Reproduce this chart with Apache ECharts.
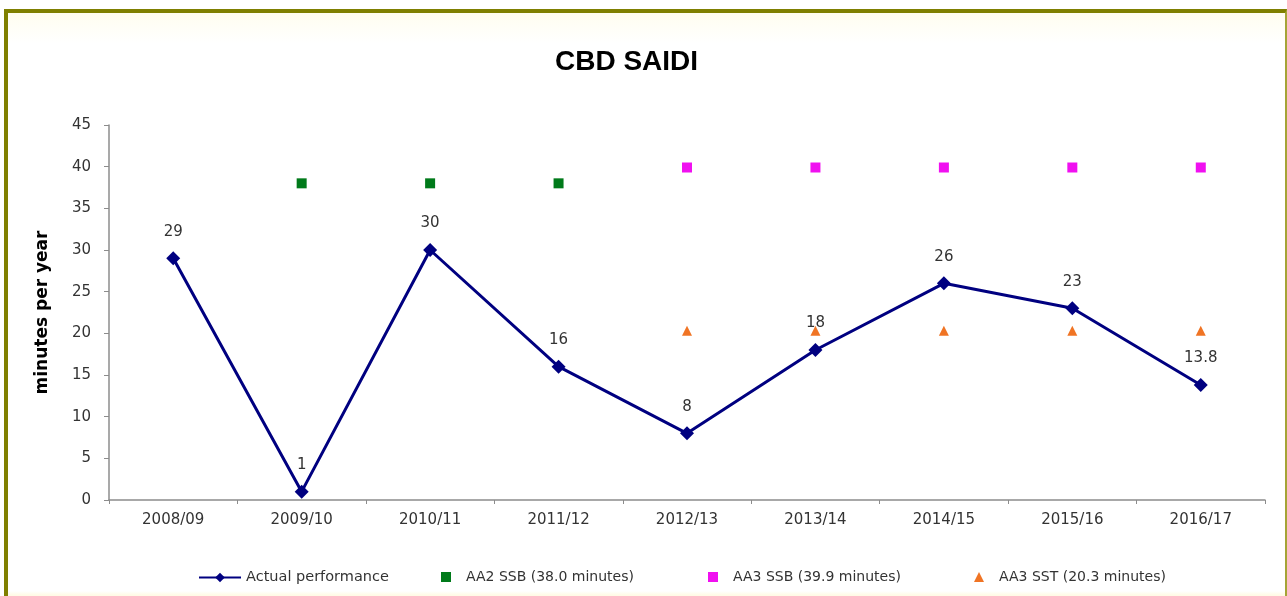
<!DOCTYPE html>
<html>
<head>
<meta charset="utf-8">
<script src="https://cdn.jsdelivr.net/npm/echarts@6/dist/echarts.min.js"></script>
<style>
  html, body { margin: 0; padding: 0; width: 1287px; height: 596px; overflow: hidden; background: #ffffff; }
  #frame {
    position: absolute; left: 4px; top: 9px; width: 1277px; height: 600px;
    border-top: 4px solid #7f7f00; border-left: 4px solid #7f7f00; border-right: 2px solid #a4a436;
    background: linear-gradient(to bottom, #fffdf0 0px, #ffffff 30px, #ffffff 578px, #fffbe6 582px);
  }
  #chart { position: absolute; left: 0; top: 0; width: 1287px; height: 596px; }
</style>
</head>
<body>
<div id="frame"></div>
<div id="chart"></div>
<script>
// Financial years on the category axis
const years = ['2008/09', '2009/10', '2010/11', '2011/12', '2012/13', '2013/14', '2014/15', '2015/16', '2016/17'];
// Actual CBD SAIDI, minutes per year
const actual = [29, 1, 30, 16, 8, 18, 26, 23, 13.8];
// AA2 service standard benchmark (38.0 minutes), 2009/10 to 2011/12
const aa2Ssb = ['-', 38, 38, 38, '-', '-', '-', '-', '-'];
// AA3 service standard benchmark (39.9 minutes), 2012/13 onwards
const aa3Ssb = ['-', '-', '-', '-', 39.9, 39.9, 39.9, 39.9, 39.9];
// AA3 service standard target (20.3 minutes), 2012/13 onwards
const aa3Sst = ['-', '-', '-', '-', 20.3, 20.3, 20.3, 20.3, 20.3];
// Value axis ticks
const yMin = 0, yMax = 45, yStep = 5;

const FONT = '"DejaVu Sans", sans-serif';
const names = ['Actual performance', 'AA2 SSB (38.0 minutes)', 'AA3 SSB (39.9 minutes)', 'AA3 SST (20.3 minutes)'];

const chart = echarts.init(document.getElementById('chart'), null, { renderer: 'canvas' });

const legendBase = {
  top: 570, padding: 0, itemHeight: 10, itemWidth: 10,
  textStyle: { fontFamily: FONT, fontSize: 14, color: '#333333' }
};
const padText = Object.assign({}, legendBase.textStyle, { padding: [0, 0, 0, 10] });

chart.setOption({
  backgroundColor: 'transparent',
  animation: false,
  title: {
    text: 'CBD SAIDI',
    left: 550, top: 43,
    textStyle: { fontFamily: '"Liberation Sans", Arial, sans-serif', fontWeight: 'bold', fontSize: 28, color: '#000000' }
  },
  grid: { left: 109, right: 22, top: 125, bottom: 96, containLabel: false },
  legend: [
    Object.assign({}, legendBase, { data: [names[0]], left: 198, itemWidth: 42, itemHeight: 12, textStyle: Object.assign({}, legendBase.textStyle, { fontSize: 14.5 }) }),
    Object.assign({}, legendBase, { data: [names[1]], left: 441, textStyle: padText }),
    Object.assign({}, legendBase, { data: [names[2]], left: 708, textStyle: padText }),
    Object.assign({}, legendBase, { data: [names[3]], left: 974, textStyle: padText })
  ],
  xAxis: {
    type: 'category',
    data: years,
    boundaryGap: true,
    axisLine: { lineStyle: { color: '#8c8c8c', width: 1.5 } },
    axisTick: { show: true, length: 4, lineStyle: { color: '#8c8c8c' } },
    axisLabel: { fontFamily: FONT, fontSize: 15, color: '#333333', margin: 13 }
  },
  yAxis: {
    type: 'value',
    min: yMin, max: yMax, interval: yStep,
    name: 'minutes per year',
    nameLocation: 'middle',
    nameRotate: 90,
    nameGap: 58,
    nameTextStyle: { fontFamily: FONT, fontWeight: 'bold', fontSize: 17, color: '#000000' },
    axisLine: { show: true, lineStyle: { color: '#8c8c8c', width: 1.5 } },
    axisTick: { show: true, length: 5, lineStyle: { color: '#8c8c8c' } },
    axisLabel: { fontFamily: FONT, fontSize: 15, color: '#333333', margin: 18 },
    splitLine: { show: false }
  },
  series: [
    {
      name: names[0],
      type: 'line',
      data: actual,
      symbol: 'diamond',
      symbolSize: 14,
      lineStyle: { color: '#000080', width: 3 },
      itemStyle: { color: '#000080' },
      label: {
        show: true, position: 'top', distance: 12,
        fontFamily: FONT, fontSize: 15, color: '#333333',
        formatter: p => String(p.value)
      },
      z: 3
    },
    {
      name: names[1],
      type: 'scatter',
      data: aa2Ssb,
      symbol: 'rect',
      symbolSize: 10,
      itemStyle: { color: '#007a1a', opacity: 1 }
    },
    {
      name: names[2],
      type: 'scatter',
      data: aa3Ssb,
      symbol: 'rect',
      symbolSize: 10,
      itemStyle: { color: '#f010f0', opacity: 1 }
    },
    {
      name: names[3],
      type: 'scatter',
      data: aa3Sst,
      symbol: 'triangle',
      symbolSize: 10,
      itemStyle: { color: '#f07424', opacity: 1 }
    }
  ]
});
</script>
</body>
</html>
